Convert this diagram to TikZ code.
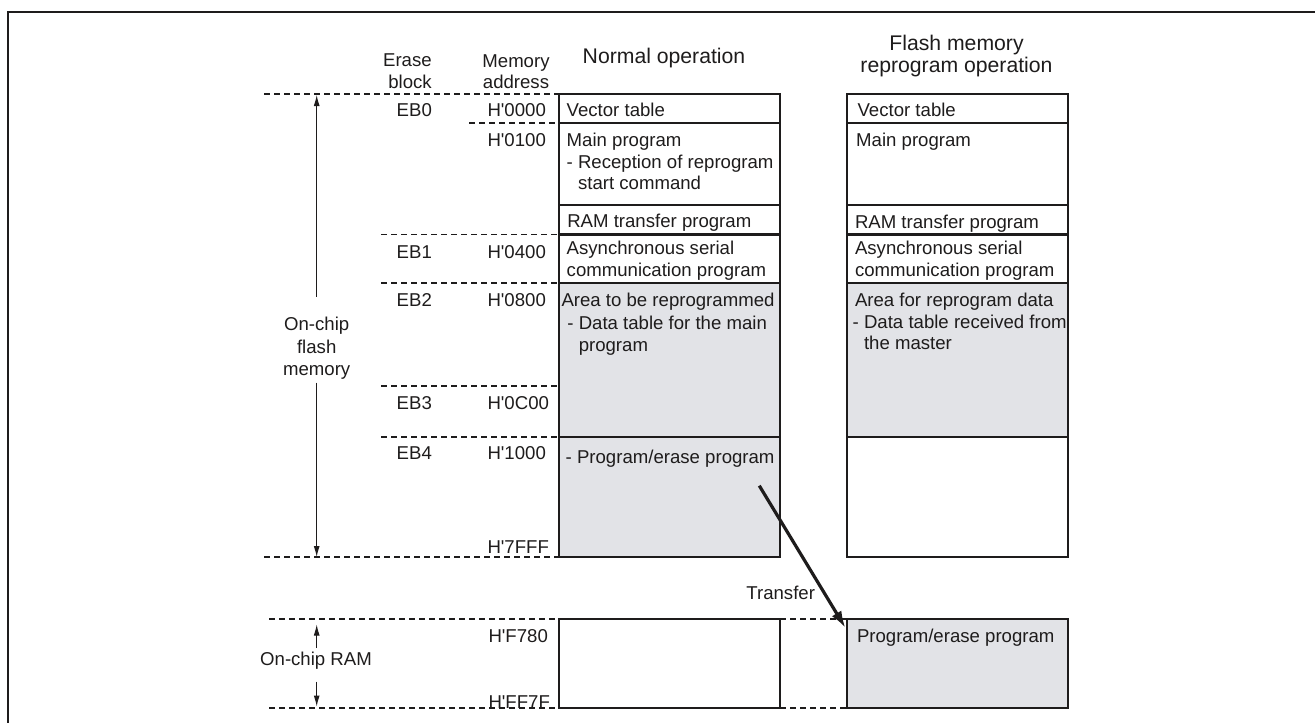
\documentclass[tikz,border=0pt]{standalone}
\usepackage{fontspec}
\setmainfont{Liberation Sans}
\usetikzlibrary{arrows.meta,calc}

\definecolor{areagray}{RGB}{226,227,231}
\definecolor{ink}{RGB}{30,28,28}

% stacked lines with a fixed alignment; the baseline is that of the first line
\newcommand\leftrows[1]{\vtop{\halign{##\hfil\cr#1\crcr}}}
\newcommand\rightrows[1]{\vtop{\halign{\hfil##\cr#1\crcr}}}
\newcommand\centrows[1]{\vtop{\halign{\hfil##\hfil\cr#1\crcr}}}
% straight apostrophe used in the hexadecimal addresses
\newcommand\hx{H\textquotesingle}

\begin{document}
\begin{tikzpicture}[x=1pt,y=-1pt,
  every node/.style={inner sep=0pt,outer sep=0pt,text=ink},
  body/.style={font=\fontsize{18.6}{21.7}\selectfont},
  head/.style={font=\fontsize{21.2}{22.7}\selectfont},
  txt/.style={body,anchor=base west},
  cell/.style={draw=ink,line width=2.3pt,anchor=north west,minimum width=221pt},
  shaded/.style={fill=areagray},
  guide/.style={draw=ink,line width=1.1pt,dash pattern=on 6pt off 4pt},
  dimarrow/.style={draw=ink,line width=1pt,-{Latex[length=11pt,width=6pt]}},
  movearrow/.style={draw=ink,line width=3.2pt,-{Latex[length=17pt,width=11pt]}},
]
\useasboundingbox (0,0) rectangle (1315,723);
\clip (0,0) rectangle (1315,723);

% outer frame
\draw[ink,line width=2pt] (8,760) -- (8,12) -- (1340,12);

% ---------- column headings ----------
\node[body,anchor=base east] (hErase) at (431.7,66.5) {\rightrows{Erase\cr block}};
\node[body,anchor=base] (hAddr) at (516,67) {\centrows{Memory\cr address}};
\node[head,anchor=base] (hNormal) at (664,63) {Normal operation};
\node[head,anchor=base] (hFlash) at (956.5,50) {\centrows{Flash memory\cr reprogram operation}};

% ---------- normal operation column ----------
\node[cell,minimum height=29pt]   (nVec)   at (559,94)    {};
\node[cell,minimum height=82pt]   (nMain)  at (559,123)   {};
\node[cell,minimum height=29.5pt] (nRamTr) at (559,205)   {};
\node[cell,minimum height=48.5pt] (nAsync) at (559,234.5) {};
\node[cell,shaded,minimum height=154pt] (nArea) at (559,283) {};
\node[cell,shaded,minimum height=120pt] (nPE)   at (559,437) {};

\node[txt] (tnVec)   at (566.7,116.5) {Vector table};
\node[txt] (tnMain)  at (566.7,146.5) {\leftrows{Main program\cr - Reception of reprogram\cr \phantom{- }start command}};
\node[txt] (tnRamTr) at (567.3,227.5) {RAM transfer program};
\node[txt] (tnAsync) at (566.7,254.8) {\leftrows{Asynchronous serial\cr communication program}};
\node[txt] (tnArea)  at (561.5,306.5) {Area to be reprogrammed};
\node[txt] (tnData)  at (567.4,329.5) {\leftrows{- Data table for the main\cr \phantom{- }program}};
\node[txt] (tnPE)    at (565.7,463.2) {- Program/erase program};

% ---------- reprogram operation column ----------
\node[cell,minimum height=29pt]   (rVec)   at (847,94)    {};
\node[cell,minimum height=82pt]   (rMain)  at (847,123)   {};
\node[cell,minimum height=29.5pt] (rRamTr) at (847,205)   {};
\node[cell,minimum height=48.5pt] (rAsync) at (847,234.5) {};
\node[cell,shaded,minimum height=154pt] (rArea) at (847,283) {};
\node[cell,minimum height=120pt]  (rFree)  at (847,437)   {};

\node[txt] (trVec)   at (857.6,116.5) {Vector table};
\node[txt] (trMain)  at (856.2,146.5) {Main program};
\node[txt] (trRamTr) at (855,228)     {RAM transfer program};
\node[txt] (trAsync) at (855,254.8)   {\leftrows{Asynchronous serial\cr communication program}};
\node[txt] (trArea)  at (855,306.5)   {Area for reprogram data};
\node[txt] (trData)  at (852.7,328.2) {\leftrows{- Data table received from\cr \phantom{- }the master}};

% ---------- on-chip RAM ----------
\node[cell,minimum height=89pt] (nRam) at (559,619) {};
\node[cell,shaded,minimum height=89pt] (rRam) at (847,619) {};
\node[txt] (trRam) at (857,642.5) {Program/erase program};

% ---------- erase blocks and addresses ----------
\node[txt] (eb0) at (396.7,116.5) {EB0};
\node[txt] (eb1) at (396.7,258.5) {EB1};
\node[txt] (eb2) at (396.7,306.5) {EB2};
\node[txt] (eb3) at (396.7,409.2) {EB3};
\node[txt] (eb4) at (396.7,459.8) {EB4};

\node[txt] (a0000) at (487.5,116.5) {\hx0000};
\node[txt] (a0100) at (487.5,146.5) {\hx0100};
\node[txt] (a0400) at (487.5,258.5) {\hx0400};
\node[txt] (a0800) at (487.5,306.5) {\hx0800};
\node[txt] (a0C00) at (487.5,409.2) {\hx0C00};
\node[txt] (a1000) at (487.5,459.8) {\hx1000};
\node[txt] (a7FFF) at (487.5,553.2) {\hx7FFF};
\node[txt] (aF780) at (488.5,642.5) {\hx F780};
\node[txt] (aFF7F) at (488.5,708.2) {\hx FF7F};

% ---------- dashed boundary guides ----------
\coordinate (gTop)  at (264,94);
\coordinate (g0100) at (469,123);
\coordinate (gEB1)  at (381,234.5);
\coordinate (gEB2)  at (381,283);
\coordinate (gEB3)  at (381,386);
\coordinate (gEB4)  at (381,437);
\coordinate (gEnd)  at (264,557);
\coordinate (gRamT) at (269,619);
\coordinate (gRamB) at (269,708);

\draw[guide] (gTop)  -- (nVec.north west);
\draw[guide] (g0100) -- (nMain.north west);
\draw[guide] (gEB1)  -- (nAsync.north west);
\draw[guide] (gEB2)  -- (nArea.north west);
\draw[guide] (gEB3)  -- (gEB3 -| nArea.west);
\draw[guide] (gEB4)  -- (nPE.north west);
\draw[guide] (gEnd)  -- (nPE.south west);
\draw[guide] (gRamT) -- (nRam.north west);
\draw[guide] (gRamB) -- (nRam.south west);
\draw[guide] (nRam.north east) -- (rRam.north west);
\draw[guide] (nRam.south east) -- (rRam.south west);

% ---------- range arrows ----------
\node[font=\fontsize{18.6}{22.5}\selectfont,anchor=base] (lblFlash) at (316.7,330.8)
  {\centrows{On-chip\cr flash\cr memory}};
\coordinate (flashTop) at (316.7,95);
\coordinate (flashBot) at (316.7,557);
\draw[dimarrow] ($(lblFlash.north)+(0,-20.5)$) -- (flashTop);
\draw[dimarrow] ($(lblFlash.south)+(0,3)$) -- (flashBot);

\node[txt,anchor=base] (lblRam) at (316,665.5) {On-chip RAM};
\coordinate (ramTop) at (316.7,624.5);
\coordinate (ramBot) at (316.7,706.5);
\draw[dimarrow] (316.7,648) -- (ramTop);
\draw[dimarrow] (316.7,681.7) -- (ramBot);

% ---------- transfer of the program/erase program ----------
\coordinate (xferFrom) at (759.3,485.7);
\draw[movearrow] (xferFrom) -- ($(rRam.north west)+(-1.5,9)$);
\node[txt,anchor=base] (lblXfer) at (780.7,599) {Transfer};

\end{tikzpicture}
\end{document}
